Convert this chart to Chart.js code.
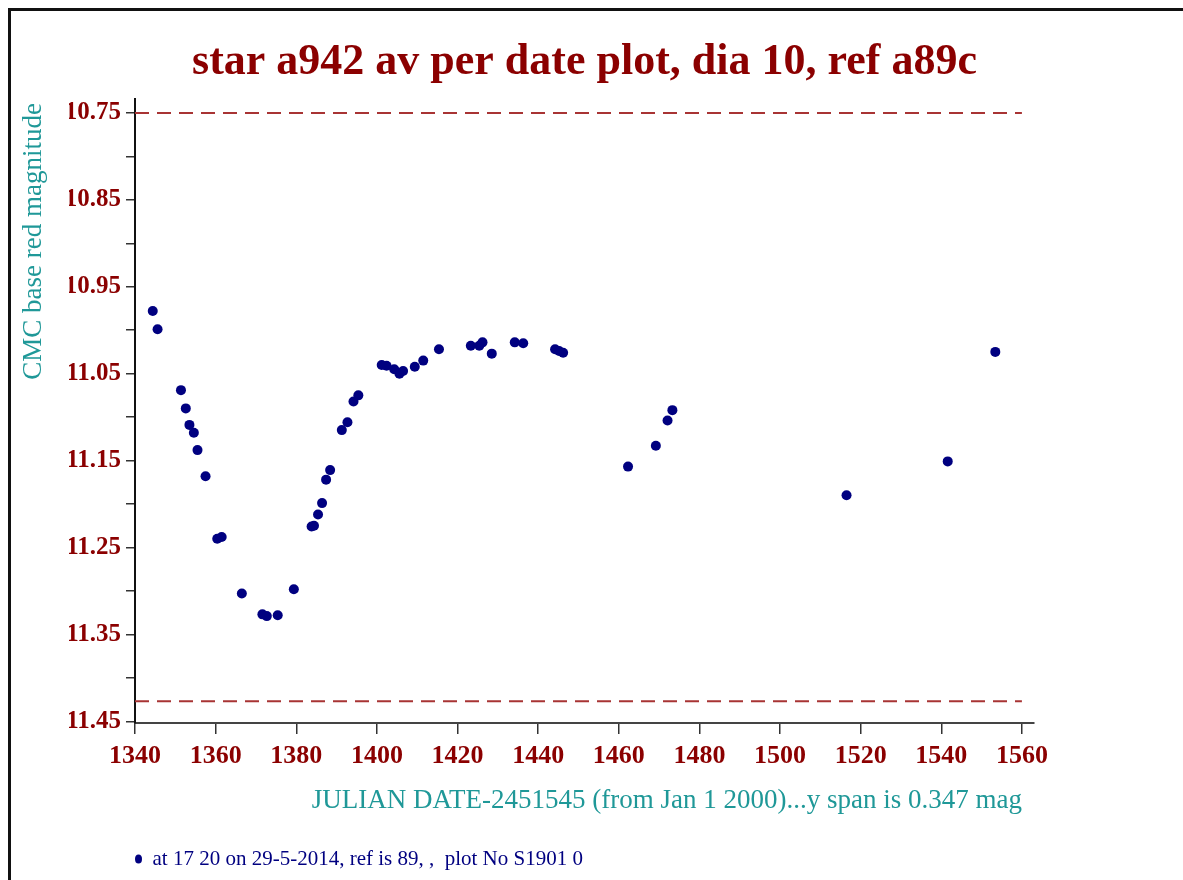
<!DOCTYPE html>
<html>
<head>
<meta charset="utf-8">
<script src="https://cdn.jsdelivr.net/npm/chart.js@4/dist/chart.umd.min.js"></script>
<style>
  html, body { margin: 0; padding: 0; background: #fff; overflow: hidden; }
  #wrap { position: relative; width: 1183px; height: 880px; }
  #frame { position: absolute; left: 8px; top: 8px; width: 1200px; height: 900px; border: 3px solid #111; pointer-events: none; }
  canvas { position: absolute; left: 0; top: 0; }
</style>
</head>
<body>
<div id="wrap">
  <canvas id="plot" width="1183" height="880"></canvas>
  <div id="frame"></div>
</div>
<script>
// julian date - 2451545 and the averaged red magnitude for each night
const julianDays = [
  1344.4, 1345.6, 1351.4, 1352.6, 1353.5, 1354.6, 1355.5, 1357.5, 1360.4, 1361.5,
  1366.5, 1371.6, 1372.7, 1375.4, 1379.4, 1383.8, 1384.4, 1385.4, 1386.4, 1387.4,
  1388.4, 1391.3, 1392.7, 1394.2, 1395.4, 1401.2, 1402.4, 1404.3, 1405.6, 1406.5,
  1409.4, 1411.5, 1415.4, 1423.3, 1425.4, 1426.2, 1428.5, 1434.2, 1436.3, 1444.2,
  1445.2, 1446.2, 1462.3, 1469.2, 1472.1, 1473.3, 1516.5, 1541.6, 1553.4,
]
const magnitudes = [
  10.978, 10.999, 11.069, 11.090, 11.109, 11.118, 11.138, 11.168, 11.240, 11.238,
  11.303, 11.327, 11.329, 11.328, 11.298, 11.226, 11.225, 11.212, 11.199, 11.172,
  11.161, 11.115, 11.106, 11.082, 11.075, 11.040, 11.041, 11.045, 11.050, 11.047,
  11.042, 11.035, 11.022, 11.018, 11.018, 11.014, 11.027, 11.014, 11.015, 11.022,
  11.024, 11.026, 11.157, 11.133, 11.104, 11.092, 11.190, 11.151, 11.025,
]

// the two dashed limit lines
const limitDays = [1340, 1560]
const upperLimit = 10.75
const lowerLimit = 11.427

const xTicks = [1340, 1360, 1380, 1400, 1420, 1440, 1460, 1480, 1500, 1520, 1540, 1560]
const yTicks = [10.75, 10.80, 10.85, 10.90, 10.95, 11.00, 11.05, 11.10, 11.15, 11.20, 11.25, 11.30, 11.35, 11.40, 11.45]

const DARK_RED = '#8b0000'
const TEAL = '#1f9898'
const NAVY = '#000080'
const DASH_RED = '#a83434'
const SERIF = '"Liberation Serif", "Times New Roman", serif'

// axis titles are drawn by hand so they sit where the original puts them
const axisTitles = {
  id: 'axisTitles',
  afterDraw(chart) {
    const { ctx, chartArea } = chart
    ctx.save()
    ctx.fillStyle = TEAL
    ctx.font = `27px ${SERIF}`
    ctx.textAlign = 'right'
    ctx.textBaseline = 'alphabetic'
    ctx.fillText('JULIAN DATE-2451545 (from Jan 1 2000)...y span is 0.347 mag', chartArea.right - 12, chartArea.bottom + 85)
    ctx.translate(41, chartArea.top + 4)
    ctx.rotate(-Math.PI / 2)
    ctx.fillText('CMC base red magnitude', 0, 0)
    ctx.restore()
  },
}

const limitLine = (mag) => ({
  label: 'limit',
  data: limitDays.map((d) => ({ x: d, y: mag })),
  showLine: true,
  borderColor: DASH_RED,
  borderWidth: 2,
  borderDash: [14, 8],
  pointRadius: 0,
})

new Chart('plot', {
  type: 'scatter',
  data: {
    datasets: [
      {
        label: 'at 17 20 on 29-5-2014, ref is 89, ,  plot No S1901 0',
        data: julianDays.map((d, i) => ({ x: d, y: magnitudes[i] })),
        backgroundColor: NAVY,
        borderColor: NAVY,
        borderWidth: 0,
        pointRadius: 5,
        pointStyle: 'circle',
      },
      limitLine(upperLimit),
      limitLine(lowerLimit),
    ],
  },
  options: {
    responsive: false,
    animation: false,
    layout: { padding: { left: 69, right: 149, top: 0, bottom: 0.5 } },
    plugins: {
      title: {
        display: true,
        fullSize: false,
        text: 'star a942 av per date plot, dia 10, ref a89c',
        color: DARK_RED,
        font: { family: SERIF, size: 44, weight: 'bold' },
        padding: { top: 36, bottom: 10.2 },
      },
      legend: {
        position: 'bottom',
        align: 'start',
        fullSize: false,
        labels: {
          usePointStyle: true,
          pointStyleWidth: 7,
          boxHeight: 6.4,
          padding: 0,
          color: NAVY,
          font: { family: SERIF, size: 21 },
          filter: (item) => item.datasetIndex === 0,
        },
      },
      tooltip: { enabled: false },
    },
    scales: {
      x: {
        type: 'linear',
        min: 1340,
        max: 1563,
        afterBuildTicks: (s) => { s.ticks = xTicks.map((v) => ({ value: v })) },
        afterFit: (s) => { s.height = 125.5 },
        grid: { drawOnChartArea: false, tickLength: 11, color: '#333', lineWidth: 1.5 },
        border: { display: true, color: '#444', width: 2 },
        ticks: {
          color: DARK_RED,
          font: { family: SERIF, size: 26, weight: 'bold' },
          padding: 7,
          maxRotation: 0,
          autoSkip: false,
          callback: (v) => String(v),
        },
      },
      y: {
        type: 'linear',
        reverse: true,
        min: 10.734,
        max: 11.452,
        afterBuildTicks: (s) => { s.ticks = yTicks.map((v) => ({ value: v })) },
        afterFit: (s) => { s.width = 66 },
        grid: { drawOnChartArea: false, tickLength: 9, color: '#333', lineWidth: 1.5 },
        border: { display: true, color: '#111', width: 2 },
        ticks: {
          color: DARK_RED,
          font: { family: SERIF, size: 25, weight: 'bold' },
          padding: 5,
          autoSkip: false,
          callback: (v, i) => (i % 2 === 0 ? v.toFixed(2) : ''),
        },
      },
    },
  },
  plugins: [axisTitles],
})
</script>
</body>
</html>
